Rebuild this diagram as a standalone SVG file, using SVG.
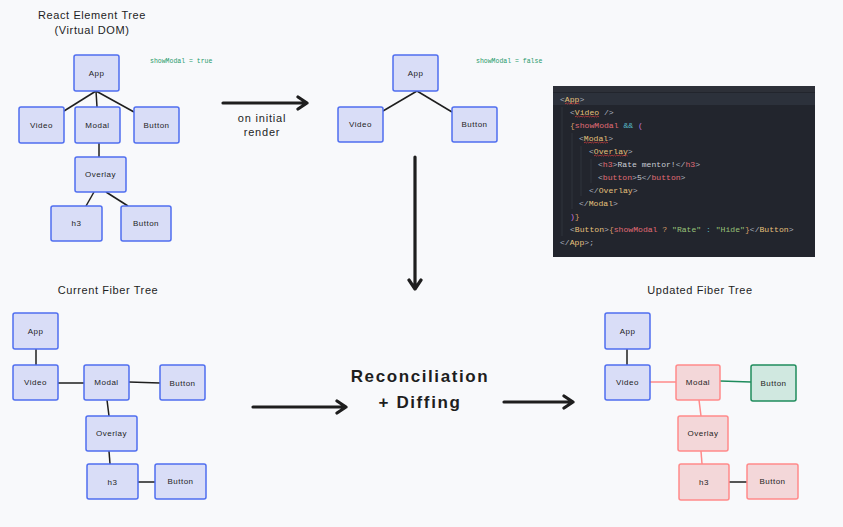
<svg xmlns="http://www.w3.org/2000/svg" width="843" height="527" viewBox="0 0 843 527">
<defs>
<style>
.bg{fill:#f8f9fb}
.nb rect{fill:#d9ddf7;stroke:#4f6ef0;stroke-width:1.5}
.nr rect{fill:#f3d7d9;stroke:#ff8a8a;stroke-width:1.5}
.ng rect{fill:#d0e8e0;stroke:#1f8c5c;stroke-width:1.5}
.n text{font-family:"Liberation Sans",Arial,sans-serif;font-size:8px;letter-spacing:0.5px;fill:#1e1e1e;text-anchor:middle;dominant-baseline:central}
.title{font-family:"Liberation Sans",Arial,sans-serif;font-size:11px;letter-spacing:0.6px;fill:#1e1e1e;text-anchor:middle}
.big{font-family:"Liberation Sans",Arial,sans-serif;font-size:17px;font-weight:bold;letter-spacing:1.6px;fill:#1e1e1e;text-anchor:middle}
.lbl{font-family:"Liberation Sans",Arial,sans-serif;font-size:11px;letter-spacing:0.8px;fill:#1e1e1e;text-anchor:middle}
.state{font-family:"Liberation Mono",monospace;font-size:6.5px;fill:#1f9a6a}
.e{stroke:#1e1e1e;stroke-width:1.5;fill:none}
.er{stroke:#ff8a8a;stroke-width:1.5;fill:none}
.eg{stroke:#1f8c5c;stroke-width:1.5;fill:none}
.arr{stroke:#1e1e1e;stroke-width:3.2;fill:none;stroke-linecap:round;stroke-linejoin:round}
.code{font-family:"Liberation Mono",monospace;font-size:8.1px;fill:#abb2bf}
.t{fill:#e5c07b}.h{fill:#e06c75}.v{fill:#e06c75}.c{fill:#56b6c2}.p{fill:#c678dd}.s{fill:#98c379}.o{fill:#d19a66}.w{fill:#c9cdd4}
.sq{stroke:#e04040;stroke-width:0.7;fill:none}
</style>
</defs>
<rect class="bg" x="0" y="0" width="843" height="527"/>

<text class="title" x="92" y="19">React Element Tree</text>
<text class="title" x="92" y="34">(Virtual DOM)</text>
<text class="state" x="150" y="63">showModal = true</text>
<text class="state" x="476" y="63">showModal = false</text>
<text class="title" x="108" y="294">Current Fiber Tree</text>
<text class="title" x="700" y="294">Updated Fiber Tree</text>
<text class="lbl" x="262" y="122">on initial</text>
<text class="lbl" x="262" y="136">render</text>
<text class="big" x="420" y="382">Reconciliation</text>
<text class="big" x="420" y="408">+ Diffing</text>

<g id="connectors">
<line class="e" x1="96" y1="91" x2="64" y2="111"/>
<line class="e" x1="96" y1="91" x2="97" y2="107"/>
<line class="e" x1="96" y1="91" x2="134" y2="112"/>
<line class="e" x1="99" y1="143" x2="99" y2="157"/>
<line class="e" x1="94" y1="192" x2="86" y2="206"/>
<line class="e" x1="106" y1="192" x2="128" y2="206"/>
<line class="e" x1="417" y1="91" x2="383" y2="111"/>
<line class="e" x1="417" y1="91" x2="452" y2="112"/>
<line class="e" x1="36" y1="349" x2="36" y2="365"/>
<line class="e" x1="58" y1="383" x2="84" y2="383"/>
<line class="e" x1="129" y1="382" x2="160" y2="383"/>
<line class="e" x1="107" y1="400" x2="109" y2="416"/>
<line class="e" x1="109" y1="451" x2="110" y2="464"/>
<line class="e" x1="138" y1="482" x2="155" y2="482"/>
<line class="e" x1="627" y1="349" x2="627" y2="365"/>
<line class="er" x1="650" y1="382" x2="676" y2="382"/>
<line class="eg" x1="720" y1="381" x2="751" y2="382"/>
<line class="er" x1="699" y1="400" x2="701" y2="416"/>
<line class="er" x1="701" y1="451" x2="702" y2="464"/>
<line class="e" x1="729" y1="482" x2="747" y2="482"/>
<path class="arr" d="M223 103 L307 103 M298 97 L307 103 L298 109"/>
<path class="arr" d="M415 157 L415 289 M409 280 L415 289 L421 280"/>
<path class="arr" d="M253 407 L346 407 M337 401 L346 407 L337 413"/>
<path class="arr" d="M504 402 L573 402 M564 396 L573 402 L564 408"/>
</g>

<g id="t1-app" class="n nb"><rect x="74" y="55" width="45" height="36" rx="2"/><text x="96.5" y="73">App</text></g>
<g id="t1-video" class="n nb"><rect x="19" y="107" width="45" height="36" rx="2"/><text x="41.5" y="125">Video</text></g>
<g id="t1-modal" class="n nb"><rect x="75" y="107" width="45" height="36" rx="2"/><text x="97.5" y="125">Modal</text></g>
<g id="t1-button" class="n nb"><rect x="134" y="107" width="45" height="36" rx="2"/><text x="156.5" y="125">Button</text></g>
<g id="t1-overlay" class="n nb"><rect x="75" y="157" width="51" height="35" rx="2"/><text x="100.5" y="174.5">Overlay</text></g>
<g id="t1-h3" class="n nb"><rect x="51" y="206" width="51" height="35" rx="2"/><text x="76.5" y="223.5">h3</text></g>
<g id="t1-button2" class="n nb"><rect x="121" y="206" width="50" height="35" rx="2"/><text x="146" y="223.5">Button</text></g>

<g id="t2-app" class="n nb"><rect x="393" y="55" width="45" height="36" rx="2"/><text x="415.5" y="73">App</text></g>
<g id="t2-video" class="n nb"><rect x="338" y="107" width="45" height="35" rx="2"/><text x="360.5" y="124.5">Video</text></g>
<g id="t2-button" class="n nb"><rect x="452" y="107" width="45" height="35" rx="2"/><text x="474.5" y="124.5">Button</text></g>

<g id="code">
<rect x="553" y="86" width="262" height="171" fill="#22252d"/>
<rect x="553" y="86" width="262" height="6" fill="#2d3038"/>
<rect x="553" y="93" width="262" height="12" fill="#2c313b"/>
<line x1="562" y1="107" x2="562" y2="236" stroke="#3a3e48" stroke-width="0.6"/>
<line x1="572" y1="133" x2="572" y2="209" stroke="#3a3e48" stroke-width="0.6"/>
<line x1="581" y1="146" x2="581" y2="196" stroke="#3a3e48" stroke-width="0.6"/>
<line x1="591" y1="159" x2="591" y2="183" stroke="#3a3e48" stroke-width="0.6"/>
<text class="code" xml:space="preserve" x="560" y="102">&lt;<tspan class="t">App</tspan>&gt;</text>
<text class="code" xml:space="preserve" x="570" y="115">&lt;<tspan class="t">Video</tspan> /&gt;</text>
<text class="code" xml:space="preserve" x="570" y="128"><tspan class="o">{</tspan><tspan class="v">showModal</tspan> <tspan class="c">&amp;&amp;</tspan> <tspan class="p">(</tspan></text>
<text class="code" xml:space="preserve" x="579" y="141">&lt;<tspan class="t">Modal</tspan>&gt;</text>
<text class="code" xml:space="preserve" x="589" y="154">&lt;<tspan class="t">Overlay</tspan>&gt;</text>
<text class="code" xml:space="preserve" x="598" y="167">&lt;<tspan class="h">h3</tspan>&gt;<tspan class="w">Rate mentor!</tspan>&lt;/<tspan class="h">h3</tspan>&gt;</text>
<text class="code" xml:space="preserve" x="598" y="180">&lt;<tspan class="h">button</tspan>&gt;<tspan class="w">5</tspan>&lt;/<tspan class="h">button</tspan>&gt;</text>
<text class="code" xml:space="preserve" x="589" y="193">&lt;/<tspan class="t">Overlay</tspan>&gt;</text>
<text class="code" xml:space="preserve" x="579" y="206">&lt;/<tspan class="t">Modal</tspan>&gt;</text>
<text class="code" xml:space="preserve" x="570" y="219"><tspan class="p">)</tspan><tspan class="o">}</tspan></text>
<text class="code" xml:space="preserve" x="570" y="232">&lt;<tspan class="t">Button</tspan>&gt;<tspan class="o">{</tspan><tspan class="v">showModal</tspan> <tspan class="o">?</tspan> <tspan class="s">"Rate"</tspan> <tspan class="c">:</tspan> <tspan class="s">"Hide"</tspan><tspan class="o">}</tspan>&lt;/<tspan class="t">Button</tspan>&gt;</text>
<text class="code" xml:space="preserve" x="560" y="245">&lt;/<tspan class="t">App</tspan>&gt;;</text>
<path class="sq" d="M565 104 l1.2 -1 l1.2 1 l1.2 -1 l1.2 1 l1.2 -1 l1.2 1 l1.2 -1 l1.2 1 l1.2 -1 l1.2 1 l1.2 -1 l1.2 1"/>
<path class="sq" d="M575 117 l1.2 -1 l1.2 1 l1.2 -1 l1.2 1 l1.2 -1 l1.2 1 l1.2 -1 l1.2 1 l1.2 -1 l1.2 1 l1.2 -1 l1.2 1 l1.2 -1 l1.2 1 l1.2 -1 l1.2 1 l1.2 -1 l1.2 1 l1.2 -1 l1.2 1"/>
<path class="sq" d="M584 143 l1.2 -1 l1.2 1 l1.2 -1 l1.2 1 l1.2 -1 l1.2 1 l1.2 -1 l1.2 1 l1.2 -1 l1.2 1 l1.2 -1 l1.2 1 l1.2 -1 l1.2 1 l1.2 -1 l1.2 1 l1.2 -1 l1.2 1 l1.2 -1 l1.2 1"/>
<path class="sq" d="M594 156 l1.2 -1 l1.2 1 l1.2 -1 l1.2 1 l1.2 -1 l1.2 1 l1.2 -1 l1.2 1 l1.2 -1 l1.2 1 l1.2 -1 l1.2 1 l1.2 -1 l1.2 1 l1.2 -1 l1.2 1 l1.2 -1 l1.2 1 l1.2 -1 l1.2 1 l1.2 -1 l1.2 1 l1.2 -1 l1.2 1 l1.2 -1 l1.2 1 l1.2 -1 l1.2 1"/>
</g>

<g id="t3-app" class="n nb"><rect x="13" y="313" width="45" height="36" rx="2"/><text x="35.5" y="331">App</text></g>
<g id="t3-video" class="n nb"><rect x="13" y="365" width="45" height="35" rx="2"/><text x="35.5" y="382.5">Video</text></g>
<g id="t3-modal" class="n nb"><rect x="84" y="365" width="45" height="35" rx="2"/><text x="106.5" y="382.5">Modal</text></g>
<g id="t3-button" class="n nb"><rect x="160" y="365" width="45" height="35" rx="2"/><text x="182.5" y="383">Button</text></g>
<g id="t3-overlay" class="n nb"><rect x="86" y="416" width="51" height="35" rx="2"/><text x="111.5" y="433.5">Overlay</text></g>
<g id="t3-h3" class="n nb"><rect x="87" y="464" width="51" height="35" rx="2"/><text x="112.5" y="482">h3</text></g>
<g id="t3-button2" class="n nb"><rect x="155" y="464" width="51" height="35" rx="2"/><text x="180.5" y="481.5">Button</text></g>

<g id="t4-app" class="n nb"><rect x="605" y="313" width="45" height="36" rx="2"/><text x="627.5" y="331">App</text></g>
<g id="t4-video" class="n nb"><rect x="605" y="365" width="45" height="35" rx="2"/><text x="627.5" y="382.5">Video</text></g>
<g id="t4-modal" class="n nr"><rect x="676" y="365" width="44" height="35" rx="2"/><text x="698" y="382.5">Modal</text></g>
<g id="t4-button" class="n ng"><rect x="751" y="365" width="45" height="36" rx="2"/><text x="773.5" y="383">Button</text></g>
<g id="t4-overlay" class="n nr"><rect x="678" y="416" width="50" height="35" rx="2"/><text x="703" y="433.5">Overlay</text></g>
<g id="t4-h3" class="n nr"><rect x="679" y="464" width="50" height="36" rx="2"/><text x="704" y="482">h3</text></g>
<g id="t4-button2" class="n nr"><rect x="747" y="464" width="51" height="35" rx="2"/><text x="772.5" y="481.5">Button</text></g>
</svg>
